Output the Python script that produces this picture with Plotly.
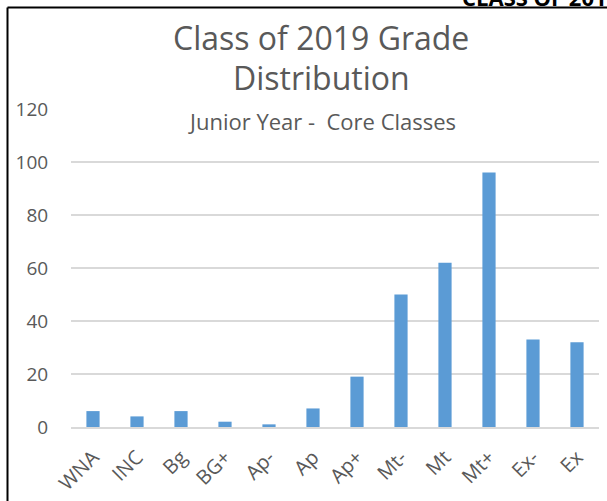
import plotly.graph_objects as go

categories = ["WNA", "INC", "Bg", "BG+", "Ap-", "Ap", "Ap+", "Mt-", "Mt", "Mt+", "Ex-", "Ex"]
counts = [6, 4, 6, 2, 1, 7, 19, 50, 62, 96, 33, 32]
y_ticks = [0, 20, 40, 60, 80, 100, 120]

title_line1 = "Class of 2019 Grade"
title_line2 = "Distribution"
subtitle = "Junior Year -  Core Classes"
corner_text = "CLASS OF 2019"

FONT = "Open Sans"
GREY = "#595959"

W, H = 607, 501
L, R, T, B = 71, 8, 109, 74
pw, ph = W - L - R, H - T - B

def px(x):
    return (x - L) / pw

def py(y):
    return (H - B - y) / ph

fig = go.Figure(go.Bar(
    x=categories, y=counts,
    marker=dict(color="#5b9bd5", line=dict(width=0)),
))

fig.update_layout(
    width=W, height=H,
    margin=dict(l=L, r=R, t=T, b=B, pad=0, autoexpand=False),
    paper_bgcolor="white", plot_bgcolor="white",
    bargap=0.7,
    showlegend=False,
    font=dict(family=FONT, color=GREY),
)
fig.update_yaxes(
    range=[0, 120], tickvals=y_ticks, showgrid=True, gridcolor="#d9d9d9", gridwidth=1.5,
    zeroline=False, showline=False, ticks="outside", ticklen=18, tickcolor="rgba(0,0,0,0)",
    tickfont=dict(family=FONT, size=19, color=GREY), automargin=False,
)
fig.update_xaxes(
    showline=True, linecolor="#d9d9d9", linewidth=1.5, tickangle=-45,
    tickfont=dict(family=FONT, size=20, color=GREY), ticks="outside", ticklen=9,
    tickcolor="rgba(0,0,0,0)", showgrid=False, automargin=False,
)

fig.add_annotation(text=title_line1, xref="paper", yref="paper", x=px(321), y=py(38),
                   showarrow=False, font=dict(family=FONT, size=32, color=GREY),
                   xanchor="center", yanchor="middle")
fig.add_annotation(text=title_line2, xref="paper", yref="paper", x=px(321), y=py(78),
                   showarrow=False, font=dict(family=FONT, size=32, color=GREY),
                   xanchor="center", yanchor="middle")
fig.add_annotation(text=subtitle, xref="paper", yref="paper", x=px(322), y=py(121),
                   showarrow=False, font=dict(family=FONT, size=22, color=GREY),
                   xanchor="center", yanchor="middle")
fig.add_annotation(text="<b>" + corner_text + "</b>", xref="paper", yref="paper", x=px(460), y=py(14),
                   showarrow=False, font=dict(family=FONT, size=22, color="black"),
                   xanchor="left", yanchor="bottom")

fig.add_shape(type="line", xref="paper", yref="paper", x0=px(7.5), x1=px(7.5), y0=py(7.5), y1=py(505),
              line=dict(color="black", width=2))
fig.add_shape(type="line", xref="paper", yref="paper", x0=px(7.5), x1=px(610), y0=py(7.5), y1=py(7.5),
              line=dict(color="black", width=2))

fig.write_html(
    "out.html",
    config={"displayModeBar": False},
    post_script="document.body.style.margin='0';document.body.style.overflow='hidden';",
)
